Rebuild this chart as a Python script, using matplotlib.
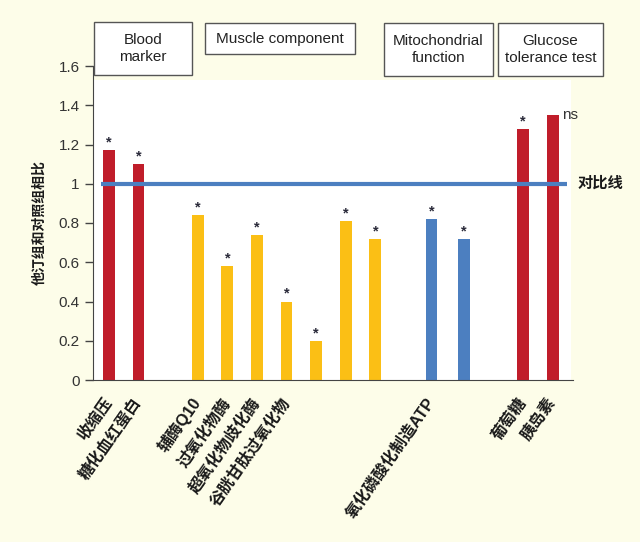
import matplotlib.pyplot as plt
from matplotlib.patches import Rectangle

plt.rcParams['font.family'] = ['Liberation Sans', 'Noto Sans CJK SC', 'DejaVu Sans']

# 数据
pos = [0, 1, 3, 4, 5, 6, 7, 8, 9, 10.9, 12, 14, 15]
values = [1.17, 1.10, 0.84, 0.58, 0.74, 0.40, 0.20, 0.81, 0.72, 0.82, 0.72, 1.28, 1.35]
groups = ['blood', 'blood', 'muscle', 'muscle', 'muscle', 'muscle', 'muscle', 'muscle', 'muscle',
          'mito', 'mito', 'glucose', 'glucose']
labels = ['收缩压', '糖化血红蛋白', '辅酶Q10', '过氧化物酶', '超氧化物歧化酶', '谷胱甘肽过氧化物',
          '', '', '', '氧化磷酸化制造ATP', '', '葡萄糖', '胰岛素']
marks = ['*', '*', '*', '*', '*', '*', '*', '*', '*', '*', '*', '*', 'ns']
yticks = [0, 0.2, 0.4, 0.6, 0.8, 1, 1.2, 1.4, 1.6]
ytick_labels = ['0', '0.2', '0.4', '0.6', '0.8', '1', '1.2', '1.4', '1.6']
ref_value = 1.0
box_titles = ['Blood\nmarker', 'Muscle component', 'Mitochondrial\nfunction', 'Glucose\ntolerance test']

colors = {'blood': '#c01d2a', 'muscle': '#fbbf15', 'mito': '#4c7fc0', 'glucose': '#c01d2a'}

W, H = 640, 542
fig = plt.figure(figsize=(W / 100, H / 100), dpi=100, facecolor='#fdfde9')

# 白色绘图区（比坐标轴顶部略低）
fig.add_artist(Rectangle((93 / W, 1 - 380 / H), (571 - 93) / W, (380 - 80) / H,
                         transform=fig.transFigure, facecolor='white', edgecolor='none', zorder=0))

ax = fig.add_axes([93 / W, 1 - 380 / H, (573 - 93) / W, (380 - 66) / H])
ax.patch.set_visible(False)

ax.bar(pos, values, width=0.4, color=[colors[g] for g in groups], zorder=2)

# 对比线
ax.plot([-0.28, 15.47], [ref_value, ref_value], color='#4c7fc0', lw=3, zorder=3, solid_capstyle='butt')
ax.text(15.82, ref_value, '对比线', fontsize=11, fontweight='bold', va='center', ha='left',
        color='#1a1a1a')

# 显著性标记
for x, v, m in zip(pos, values, marks):
    if m == 'ns':
        ax.annotate(m, (x + 0.2, v), xytext=(2, 0), textcoords='offset points',
                    ha='left', va='center', fontsize=11, color='#333333')
    else:
        ax.annotate(m, (x, v), xytext=(0, 0.5), textcoords='offset points',
                    ha='center', va='bottom', fontsize=10.5, fontweight='bold', color='#2a2a3a')

ax.set_xlim(-0.54, 15.68)
ax.set_ylim(0, 1.6)
ax.set_yticks(yticks, ytick_labels)
ax.tick_params(axis='y', labelsize=11, length=6, width=1, color='#444444', labelcolor='#333333')

tick_pos = [p for p, l in zip(pos, labels) if l]
tick_lab = [l for l in labels if l]
ax.set_xticks(tick_pos, tick_lab)
ax.tick_params(axis='x', length=0, pad=14)
for t in ax.get_xticklabels():
    t.set_rotation(55)
    t.set_ha('right')
    t.set_va('center')
    t.set_rotation_mode('anchor')
    t.set_fontsize(11.5)
    t.set_fontweight('bold')
    t.set_color('#1a1a1a')

ax.set_ylabel('他汀组和对照组相比', fontsize=10, fontweight='bold', labelpad=9, color='#1a1a1a')

for s in ['top', 'right']:
    ax.spines[s].set_visible(False)
ax.spines['left'].set_color('#444444')
ax.spines['bottom'].set_color('#444444')

# 顶部分组框
boxes = [(94, 22, 192, 75), (205, 23, 355, 54), (384, 23, 493, 76), (498, 23, 603, 76)]
for (x0, y0, x1, y1), title in zip(boxes, box_titles):
    fig.add_artist(Rectangle((x0 / W, 1 - y1 / H), (x1 - x0) / W, (y1 - y0) / H,
                             transform=fig.transFigure, facecolor='white',
                             edgecolor='#555555', lw=1))
    fig.text((x0 + x1) / 2 / W, 1 - (y0 + y1) / 2 / H, title, ha='center', va='center',
             fontsize=11, color='#222222', linespacing=1.2)

fig.savefig('out.png', dpi=100, facecolor=fig.get_facecolor())
